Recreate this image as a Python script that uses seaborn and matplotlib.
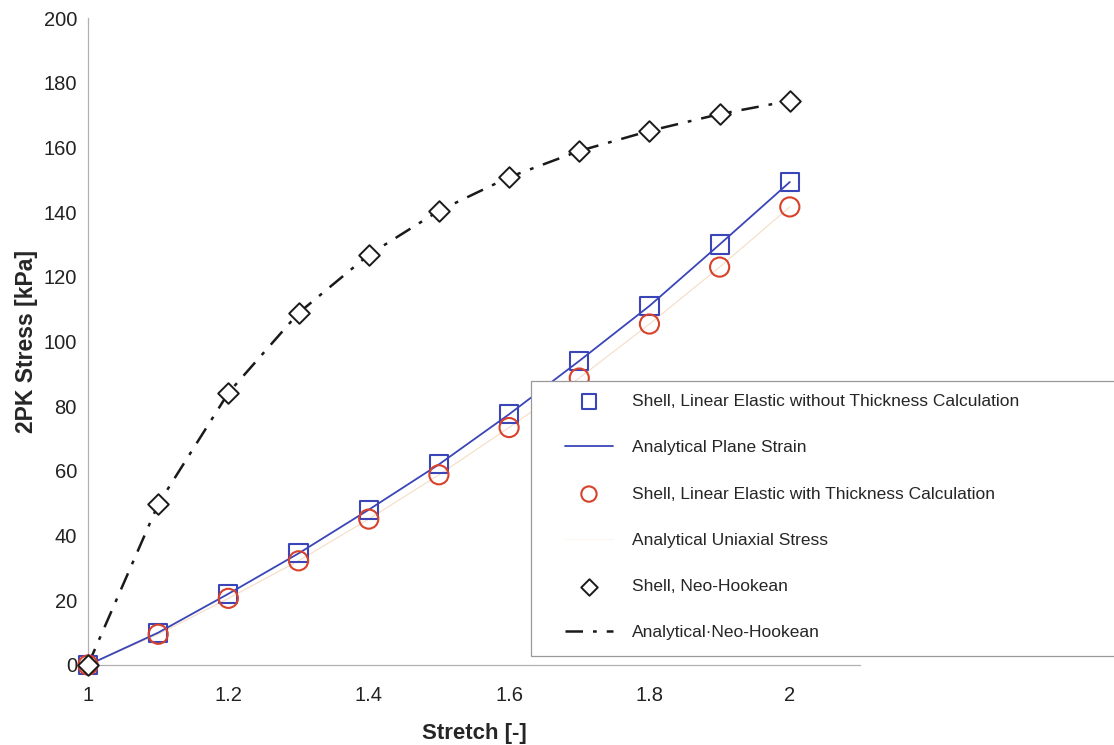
import numpy as np
import pandas as pd
import matplotlib
matplotlib.use("Agg")
import matplotlib.pyplot as plt
from matplotlib.patches import Rectangle
import seaborn as sns

# Stretch values (shared x for all series)
stretch = [1.0, 1.1, 1.2, 1.3, 1.4, 1.5, 1.6, 1.7, 1.8, 1.9, 2.0]

# 2PK stress [kPa]
shell_le_no_thick = [0, 10, 22, 34.5, 48, 62, 77.5, 94, 111, 130, 149.3]
analytical_plane_strain = [0, 10, 22, 34.5, 48, 62, 77.5, 94, 111, 130, 149.3]
shell_le_thick = [0, 9.5, 20.6, 32.2, 45.1, 58.8, 73.4, 88.7, 105.4, 123, 141.6]
analytical_uniaxial = [0, 9.5, 20.6, 32.2, 45.1, 58.8, 73.4, 88.7, 105.4, 123, 141.6]
shell_neo_hookean = [0, 49.7, 84.1, 108.8, 126.8, 140.4, 150.8, 158.9, 165.1, 170.3, 174.4]
analytical_neo_hookean = [0, 49.7, 84.1, 108.8, 126.8, 140.4, 150.8, 158.9, 165.1, 170.3, 174.4]

x_ticks = [1, 1.2, 1.4, 1.6, 1.8, 2]
x_tick_labels = ["1", "1.2", "1.4", "1.6", "1.8", "2"]
y_ticks = [0, 20, 40, 60, 80, 100, 120, 140, 160, 180, 200]

sns.set_style("white")
plt.rcParams["font.family"] = ["Liberation Sans", "DejaVu Sans"]

W, H = 1114, 745
fig = plt.figure(figsize=(W / 100, H / 100), dpi=100)
ax = fig.add_axes([88 / W, 1 - 665 / H, 772 / W, 647 / H])

blue = "#3a45b8"
red = "#d8412a"
pale = "#f6dcc4"
dashdot = [7, 4, 1.5, 4]

sns.lineplot(x=stretch, y=analytical_plane_strain, ax=ax, color=blue,
             lw=1.3, label="Analytical Plane Strain", zorder=2)
sns.lineplot(x=stretch, y=analytical_uniaxial, ax=ax, color=pale,
             lw=0.8, label="Analytical Uniaxial Stress", zorder=1.5)
sns.lineplot(x=stretch, y=analytical_neo_hookean, ax=ax, color="#1a1a1a",
             lw=1.8, label="Analytical\u00b7Neo-Hookean", zorder=2)
ax.lines[-1].set_dashes(dashdot)

sns.scatterplot(x=stretch, y=shell_le_no_thick, ax=ax, marker="s", s=170,
                facecolors="none", edgecolor=blue, linewidth=1.5,
                label="Shell, Linear Elastic without Thickness Calculation",
                zorder=3, clip_on=False)
sns.scatterplot(x=stretch, y=shell_le_thick, ax=ax, marker="o", s=190,
                facecolors="none", edgecolor=red, linewidth=1.5,
                label="Shell, Linear Elastic with Thickness Calculation",
                zorder=4, clip_on=False)
sns.scatterplot(x=stretch, y=shell_neo_hookean, ax=ax, marker="D", s=110,
                facecolors="white", edgecolor="#1a1a1a", linewidth=1.4,
                label="Shell, Neo-Hookean", zorder=5, clip_on=False)

ax.set_xlim(1, 2.1)
ax.set_ylim(0, 200)
ax.set_xticks(x_ticks)
ax.set_xticklabels(x_tick_labels)
ax.set_yticks(y_ticks)
ax.tick_params(axis="both", labelsize=14.5, colors="#222222", length=4,
               width=0.8, direction="out", color="#aaaaaa")
ax.tick_params(axis="y", pad=4)
ax.tick_params(axis="x", pad=11)

for side in ["top", "right"]:
    ax.spines[side].set_visible(False)
for side in ["left", "bottom"]:
    ax.spines[side].set_color("#b0b0b0")
    ax.spines[side].set_linewidth(0.9)

ax.set_xlabel("Stretch [-]", fontsize=16, fontweight="bold", labelpad=13)
ax.set_ylabel("2PK Stress [kPa]", fontsize=16.5, fontweight="bold", labelpad=4)

handles, labels = ax.get_legend_handles_labels()
ax.get_legend().remove()
order = [
    "Shell, Linear Elastic without Thickness Calculation",
    "Analytical Plane Strain",
    "Shell, Linear Elastic with Thickness Calculation",
    "Analytical Uniaxial Stress",
    "Shell, Neo-Hookean",
    "Analytical\u00b7Neo-Hookean",
]
lookup = dict(zip(labels, handles))

# opaque legend box reaching past the right edge
fig.patches.append(Rectangle((531 / W, 1 - 656 / H), 600 / W, 275 / H,
                             transform=fig.transFigure, facecolor="white",
                             edgecolor="#999999", linewidth=0.9, zorder=4))
leg = fig.legend([lookup[k] for k in order], order,
                 loc="upper left", bbox_to_anchor=(565 / W, 1 - 394 / H),
                 bbox_transform=fig.transFigure,
                 fontsize=12.5, frameon=False,
                 labelspacing=1.79, handlelength=2.76, handletextpad=1.1,
                 borderpad=0, borderaxespad=0, markerscale=0.8)
leg.set_zorder(5)
leg.legend_handles[3].set_color("#fdf6ef")
leg.legend_handles[5].set_dashes(dashdot)

fig.savefig("out.png", dpi=100)
